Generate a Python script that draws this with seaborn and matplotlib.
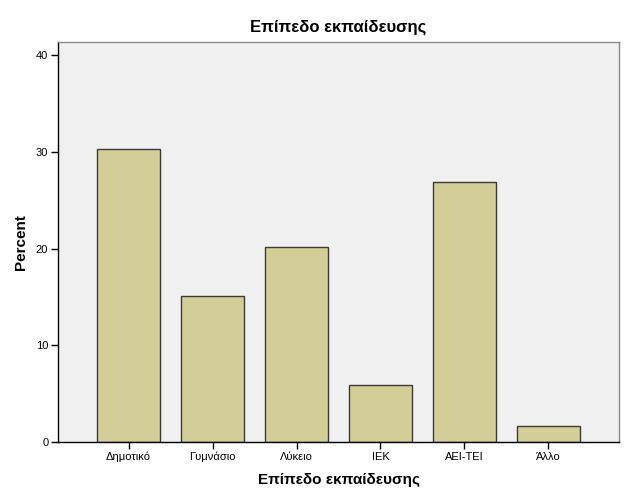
import matplotlib
matplotlib.use("Agg")
import matplotlib.pyplot as plt
import seaborn as sns
import pandas as pd

categories = ["Δημοτικό", "Γυμνάσιο", "Λύκειο", "ΙΕΚ", "ΑΕΙ-ΤΕΙ", "Άλλο"]
percent = [30.25, 15.13, 20.17, 5.88, 26.89, 1.68]
yticks = [0, 10, 20, 30, 40]

sns.set_style("white")
plt.rcParams['font.family'] = ['Liberation Sans', 'DejaVu Sans']
plt.rcParams['text.color'] = 'black'
plt.rcParams['axes.labelcolor'] = 'black'
plt.rcParams['xtick.color'] = 'black'
plt.rcParams['ytick.color'] = 'black'

df = pd.DataFrame({"cat": categories, "pct": percent})

fig = plt.figure(figsize=(6.26, 5.01), dpi=100)
ax = fig.add_axes([0.0927, 0.1178, 0.8961, 0.799])
ax.set_facecolor("#F0F0F0")
sns.barplot(data=df, x="cat", y="pct", color="#D3CE97", width=0.75,
            edgecolor="#3a3a3a", linewidth=1.0, saturation=1, ax=ax, zorder=2)
for p in ax.patches:
    p.set_facecolor("#D3CE97")

ax.set_xlim(-0.84, 5.84)
ax.set_ylim(0, 41.4)
ax.set_yticks(yticks)
ax.set_yticklabels([str(t) for t in yticks], fontsize=8)
ax.tick_params(axis="both", direction="out", length=5, width=1, colors="black",
               labelsize=8, bottom=True, left=True, pad=2)
ax.set_xlabel("Επίπεδο εκπαίδευσης", fontsize=11, fontweight="bold", labelpad=8, color="black")
ax.set_ylabel("Percent", fontsize=11, fontweight="bold", labelpad=6, color="black")
ax.set_title("Επίπεδο εκπαίδευσης", fontsize=12, fontweight="bold", pad=7, color="black")

for s in ["left", "bottom"]:
    ax.spines[s].set_color("black")
    ax.spines[s].set_linewidth(1)
for s in ["top", "right"]:
    ax.spines[s].set_color("#8a8a8a")
    ax.spines[s].set_linewidth(1)
    ax.spines[s].set_visible(True)

fig.savefig("out.png", dpi=100, facecolor="white")
